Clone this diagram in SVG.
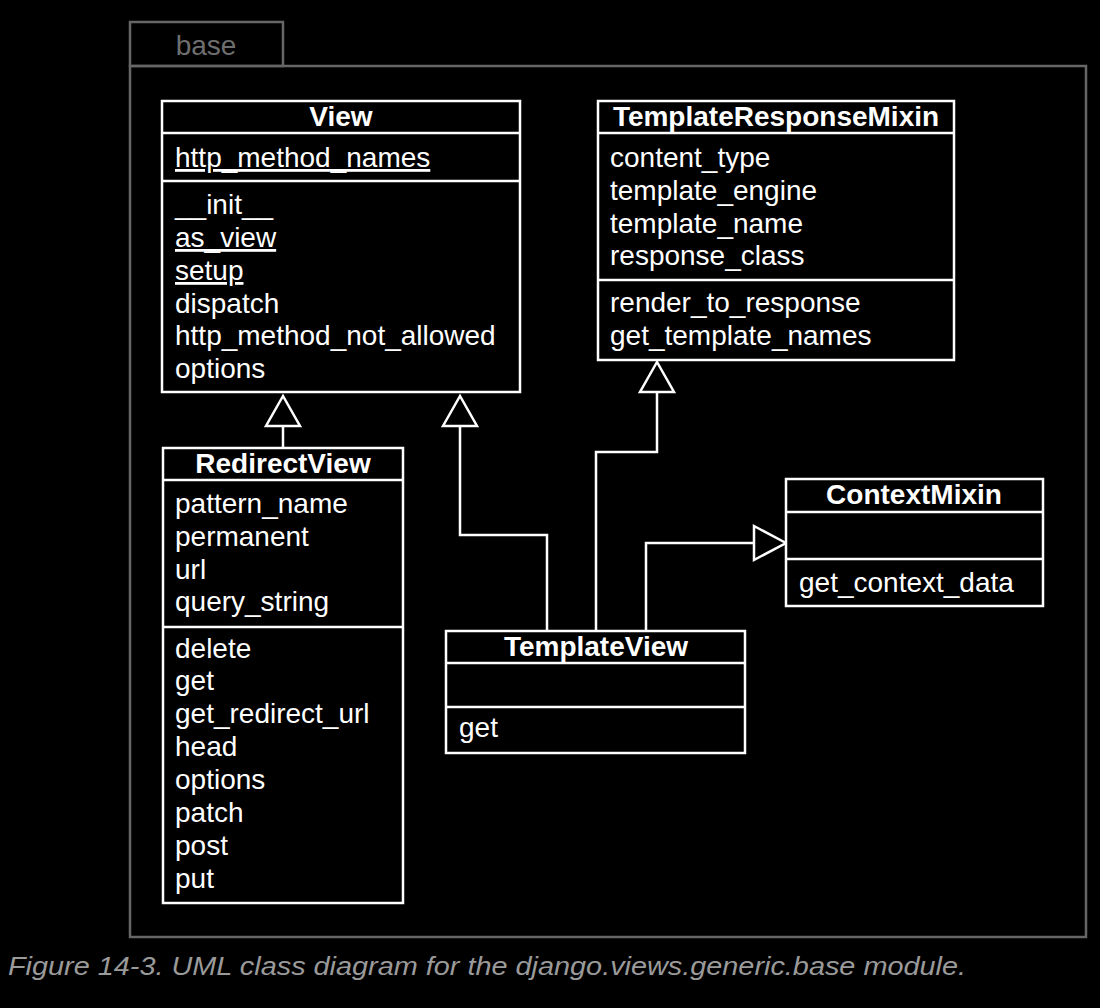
<svg xmlns="http://www.w3.org/2000/svg" width="1100" height="1008" viewBox="0 0 1100 1008">
<style>
.box{fill:#000;stroke:#fff;stroke-width:2.5}
.sep{stroke:#fff;stroke-width:2.5}
.t{font-family:"Liberation Sans",Arial,sans-serif;font-size:28px;fill:#fff}
.h{font-family:"Liberation Sans",Arial,sans-serif;font-size:28px;font-weight:bold;fill:#fff;text-anchor:middle}
.u{text-decoration:underline}
.conn{fill:none;stroke:#fff;stroke-width:2.5}
.tri{fill:#000;stroke:#fff;stroke-width:2.5}
</style>
<rect x="0" y="0" width="1100" height="1008" fill="#000"/>
<g id="package">
<rect x="130" y="22" width="153" height="44" fill="none" stroke="#666" stroke-width="2.5"/>
<rect x="130" y="66" width="956" height="871" fill="none" stroke="#666" stroke-width="2.5"/>
<text x="206" y="55" font-family="Liberation Sans,Arial,sans-serif" font-size="28" fill="#6e6e6e" text-anchor="middle">base</text>
</g>
<g id="connectors">
<polyline class="conn" points="283,426 283,448"/>
<polygon class="tri" points="283,396 266,426 300,426"/>
<polyline class="conn" points="460,426 460,535 547,535 547,631"/>
<polygon class="tri" points="460,396 443,426 477,426"/>
<polyline class="conn" points="657,392 657,452 596,452 596,631"/>
<polygon class="tri" points="657,362 640,392 674,392"/>
<polyline class="conn" points="754,543 646,543 646,631"/>
<polygon class="tri" points="786,543 754,526 754,560"/>
</g>
<g id="View">
<rect class="box" x="162" y="101" width="358" height="291"/>
<line class="sep" x1="162" y1="133" x2="520" y2="133"/>
<line class="sep" x1="162" y1="181" x2="520" y2="181"/>
<text class="h" x="341" y="126">View</text>
<text class="t u" x="175" y="167">http_method_names</text>
<text class="t" x="175" y="214">__init__</text>
<text class="t u" x="175" y="247">as_view</text>
<text class="t u" x="175" y="280">setup</text>
<text class="t" x="175" y="313">dispatch</text>
<text class="t" x="175" y="345">http_method_not_allowed</text>
<text class="t" x="175" y="378">options</text>
</g>
<g id="TemplateResponseMixin">
<rect class="box" x="598" y="101" width="356" height="259"/>
<line class="sep" x1="598" y1="133" x2="954" y2="133"/>
<line class="sep" x1="598" y1="280" x2="954" y2="280"/>
<text class="h" x="776" y="126">TemplateResponseMixin</text>
<text class="t" x="610" y="167">content_type</text>
<text class="t" x="610" y="200">template_engine</text>
<text class="t" x="610" y="233">template_name</text>
<text class="t" x="610" y="265">response_class</text>
<text class="t" x="610" y="312">render_to_response</text>
<text class="t" x="610" y="345">get_template_names</text>
</g>
<g id="RedirectView">
<rect class="box" x="163" y="448" width="240" height="455"/>
<line class="sep" x1="163" y1="480" x2="403" y2="480"/>
<line class="sep" x1="163" y1="627" x2="403" y2="627"/>
<text class="h" x="283" y="473">RedirectView</text>
<text class="t" x="175" y="513">pattern_name</text>
<text class="t" x="175" y="546">permanent</text>
<text class="t" x="175" y="579">url</text>
<text class="t" x="175" y="611">query_string</text>
<text class="t" x="175" y="658">delete</text>
<text class="t" x="175" y="690">get</text>
<text class="t" x="175" y="723">get_redirect_url</text>
<text class="t" x="175" y="756">head</text>
<text class="t" x="175" y="789">options</text>
<text class="t" x="175" y="822">patch</text>
<text class="t" x="175" y="855">post</text>
<text class="t" x="175" y="888">put</text>
</g>
<g id="TemplateView">
<rect class="box" x="446" y="631" width="299" height="122"/>
<line class="sep" x1="446" y1="663" x2="745" y2="663"/>
<line class="sep" x1="446" y1="707" x2="745" y2="707"/>
<text class="h" x="596" y="656">TemplateView</text>
<text class="t" x="459" y="737">get</text>
</g>
<g id="ContextMixin">
<rect class="box" x="786" y="479" width="257" height="127"/>
<line class="sep" x1="786" y1="512" x2="1043" y2="512"/>
<line class="sep" x1="786" y1="559" x2="1043" y2="559"/>
<text class="h" x="914" y="504">ContextMixin</text>
<text class="t" x="799" y="592">get_context_data</text>
</g>
<text id="caption" x="8" y="975" font-family="Liberation Sans,Arial,sans-serif" font-style="italic" font-size="26" fill="#9a9a9a" textLength="958" lengthAdjust="spacingAndGlyphs">Figure 14-3. UML class diagram for the django.views.generic.base module.</text>
</svg>
